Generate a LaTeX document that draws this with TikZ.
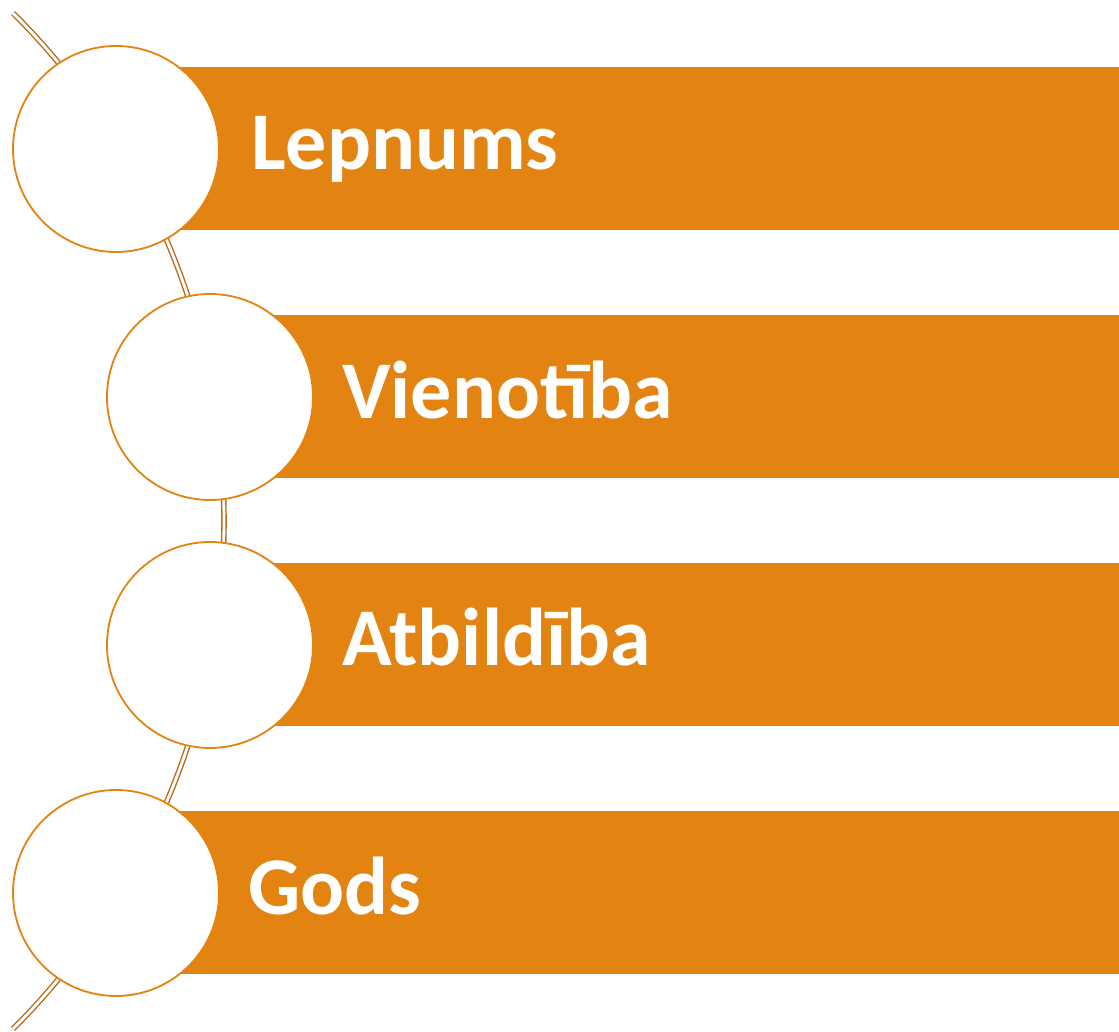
\documentclass[tikz,border=0pt]{standalone}
\usepackage{fontspec}
\setmainfont{Carlito}
\definecolor{barorange}{HTML}{E38312}
\definecolor{arcbrown}{HTML}{B96A16}
\begin{document}
\begin{tikzpicture}[x=1pt,y=1pt,
  bar/.style={fill=barorange,draw=none},
  ring/.style={circle,draw=barorange,line width=1.8pt,fill=white,minimum size=206pt,inner sep=0pt},
  label/.style={anchor=base west,inner sep=0pt,text=white,font=\fontsize{82}{90}\selectfont\bfseries},
  rail/.style={draw=arcbrown,line width=1.4pt,double=white,double distance=2.8pt}]
\useasboundingbox (0,0) rectangle (1119,1032);
% bars
\fill[bar] (116,802) rectangle (1119,965);
\fill[bar] (210,554) rectangle (1119,717);
\fill[bar] (210,306) rectangle (1119,469);
\fill[bar] (116,58) rectangle (1119,221);
% arc
\coordinate (arcc) at (-493,511);
\draw[rail] (arcc) ++(45.1:717) arc[start angle=45.1,end angle=-45.1,radius=717];
% circles
\node[ring] (c1) at (116,883) {};
\node[ring] (c2) at (210,635) {};
\node[ring] (c3) at (210,387) {};
\node[ring] (c4) at (116,139) {};
% labels
\node[label] (t1) at (251,862) {Lepnums};
\node[label] (t2) at (342,613) {Vienotība};
\node[label] (t3) at (342,366) {Atbildība};
\node[label] (t4) at (248,117) {Gods};
\end{tikzpicture}
\end{document}
